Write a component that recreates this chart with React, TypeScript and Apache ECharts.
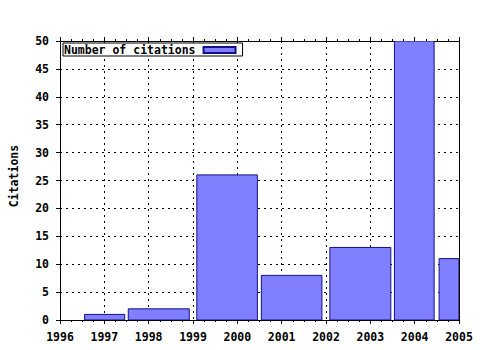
import React, { useEffect, useRef } from "react";
import * as echarts from "echarts";

const seriesName = "Number of citations";
const binStart = [1996.555, 1997.54, 1999.086, 2000.542, 2002.087, 2003.543, 2004.551];
const binEnd = [1997.46, 1998.916, 2000.452, 2001.908, 2003.462, 2004.439, 2005.45];
const citations = [1, 2, 26, 8, 13, 50, 11];
const yearTicks = [1996, 1997, 1998, 1999, 2000, 2001, 2002, 2003, 2004, 2005];
const yTicks = [0, 5, 10, 15, 20, 25, 30, 35, 40, 45, 50];

const FONT = "DejaVu Sans Mono";

export default function App() {
  const ref = useRef<HTMLDivElement>(null);
  useEffect(() => {
    if (!ref.current) return;
    document.body.style.margin = "0";
    const chart = echarts.init(ref.current, null, { renderer: "svg" });
    const data = citations.map((v, i) => [binStart[i], binEnd[i], v]);
    const gridLine = { show: true, lineStyle: { color: "#000", type: [2, 4] as any, width: 1 } };
    chart.setOption({
      animation: false,
      backgroundColor: "#fff",
      grid: { left: 57, right: 21, top: 41, bottom: 30, containLabel: false },
      legend: {
        show: true,
        left: 63,
        top: 43,
        align: "right",
        orient: "horizontal",
        itemWidth: 32,
        itemHeight: 6,
        itemGap: 0,
        padding: [1, 6, 0, 1],
        borderColor: "#000",
        borderWidth: 1,
        borderRadius: 0,
        backgroundColor: "#fff",
        data: [{ name: seriesName, icon: "rect" }],
        textStyle: { fontFamily: FONT, fontWeight: "bold", fontSize: 11.5, color: "#000", padding: [0, 3, 0, 0] },
      },
      xAxis: [
        {
          type: "value",
          min: yearTicks[0],
          max: yearTicks[yearTicks.length - 1],
          interval: 1,
          position: "bottom",
          axisLine: { show: true, onZero: false, lineStyle: { color: "#000", width: 1 } },
          axisTick: { show: true, inside: false, length: 4, lineStyle: { color: "#000" } },
          minorTick: { show: true, splitNumber: 4, length: 2, lineStyle: { color: "#000" } },
          axisLabel: {
            margin: 11,
            color: "#000",
            fontFamily: FONT,
            fontWeight: "bold",
            fontSize: 11.5,
            formatter: (v: number) => String(v),
          },
          splitLine: gridLine,
        },
        {
          type: "value",
          min: yearTicks[0],
          max: yearTicks[yearTicks.length - 1],
          interval: 1,
          position: "top",
          axisLine: { show: true, onZero: false, lineStyle: { color: "#000", width: 1 } },
          axisTick: { show: true, inside: false, length: 4, lineStyle: { color: "#000" } },
          minorTick: { show: true, splitNumber: 4, length: 2, lineStyle: { color: "#000" } },
          axisLabel: { show: false },
          splitLine: { show: false },
        },
      ],
      yAxis: [
        {
          type: "value",
          min: yTicks[0],
          max: yTicks[yTicks.length - 1],
          interval: 5,
          position: "left",
          name: "Citations",
          nameLocation: "middle",
          nameGap: 40,
          nameRotate: 90,
          nameTextStyle: { fontFamily: FONT, fontWeight: "bold", fontSize: 11.5, color: "#000", padding: [0, 0, 0, 9] },
          axisLine: { show: true, onZero: false, lineStyle: { color: "#000", width: 1 } },
          axisTick: { show: true, inside: false, length: 4, lineStyle: { color: "#000" } },
          axisLabel: { margin: 11, color: "#000", fontFamily: FONT, fontWeight: "bold", fontSize: 11.5 },
          splitLine: gridLine,
        },
        {
          type: "value",
          min: yTicks[0],
          max: yTicks[yTicks.length - 1],
          interval: 5,
          position: "right",
          axisLine: { show: true, onZero: false, lineStyle: { color: "#000", width: 1 } },
          axisTick: { show: false },
          axisLabel: { show: false },
          splitLine: { show: false },
        },
      ],
      series: [
        {
          name: seriesName,
          type: "custom",
          xAxisIndex: 0,
          yAxisIndex: 0,
          clip: true,
          encode: { x: [0, 1], y: 2 },
          itemStyle: { color: "#8080ff", borderColor: "#10108c", borderWidth: 1 },
          renderItem: (params: any, api: any) => {
            const s = api.coord([api.value(0), api.value(2)]);
            const e = api.coord([api.value(1), 0]);
            const rect = {
              x: s[0],
              y: s[1],
              width: e[0] - s[0],
              height: e[1] - s[1],
            };
            const clipped = echarts.graphic.clipRectByRect(rect, {
              x: params.coordSys.x,
              y: params.coordSys.y,
              width: params.coordSys.width,
              height: params.coordSys.height,
            });
            if (!clipped) return null;
            return {
              type: "rect",
              shape: clipped,
              style: api.style(),
            };
          },
          data,
        },
      ],
    });
    return () => chart.dispose();
  }, []);
  return <div ref={ref} style={{ width: 480, height: 350 }} />;
}
